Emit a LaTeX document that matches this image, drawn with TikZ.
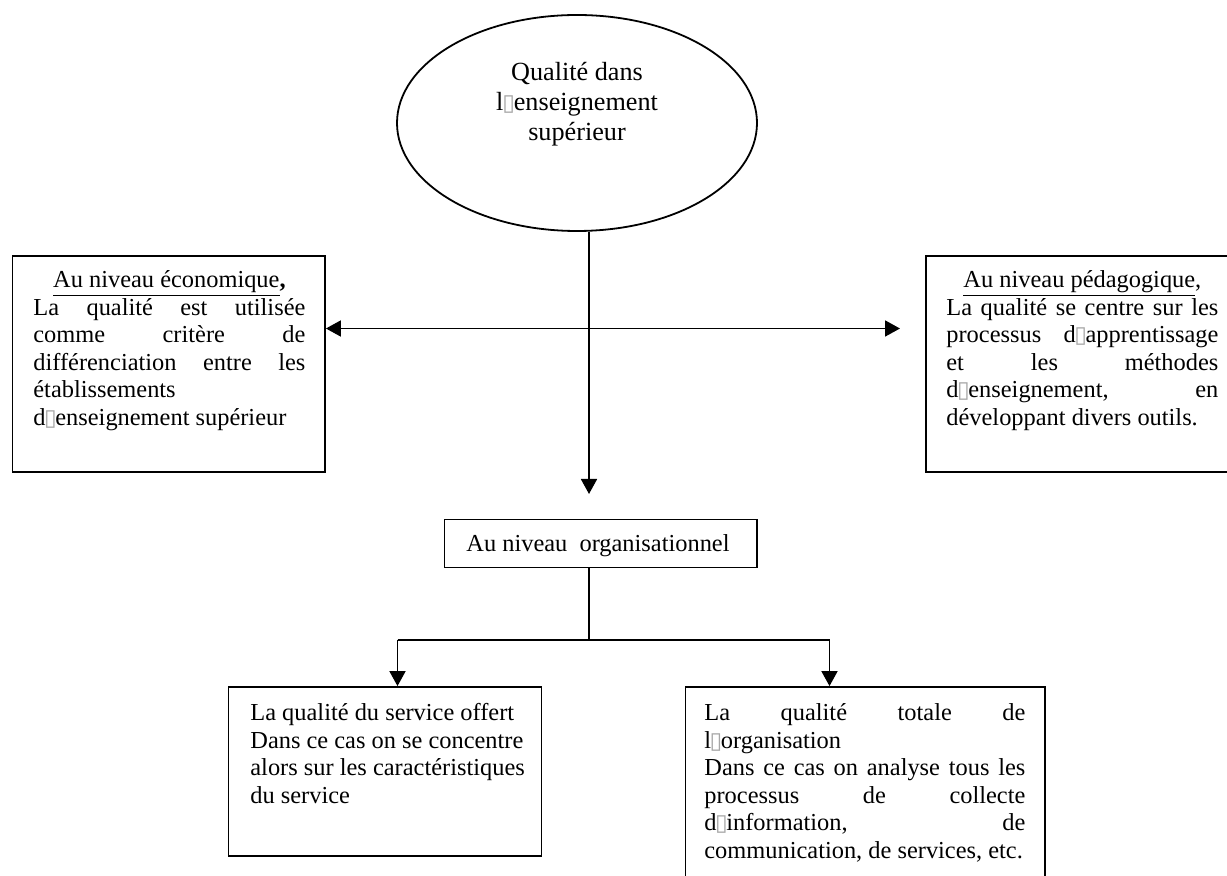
\documentclass[tikz,border=0pt]{standalone}
\usepackage{fontspec}
\setmainfont{Liberation Serif}
\newfontfamily\djv{DejaVu Sans}
\usetikzlibrary{arrows.meta,shapes.geometric}
\newcommand\misglyph{\makebox[0.4em]{\djv\fontsize{11.5}{11.5}\selectfont\color{gray!70}▯}}
\newcommand\natsp{\spaceskip=0pt\xspaceskip=0pt\rightskip=0pt plus 1fil\baselineskip=13.75pt\relax}
\newcommand\firstln{\rule{0pt}{9.625pt}}
\tikzset{
  box/.style={draw, line width=0.9pt, rectangle, inner sep=0pt},
  txt/.style={inner sep=0pt, anchor=north west, font=\fontsize{12.2}{13.75}\selectfont},
  arr/.style={-{Triangle[length=7.5pt,width=8pt]}, line width=0.9pt},
  darr/.style={{Triangle[length=7.5pt,width=8pt]}-{Triangle[length=7.5pt,width=8pt]}, line width=0.9pt},
  ln/.style={line width=0.9pt}
}
\begin{document}
\begin{tikzpicture}[x=0.5pt,y=-0.5pt]
\useasboundingbox (0,0) rectangle (1227,876);
\clip (0,0) rectangle (1227,876);
\fill[white] (0,0) rectangle (1227,876);
% shapes
\node[draw, ellipse, line width=0.9pt, inner sep=0pt, minimum width=180pt, minimum height=108pt] (e) at (577,123) {};
\node[anchor=north, text width=110pt, inner sep=0pt, font=\fontsize{13.1}{15}\selectfont] (et) at (577,59)
  {\spaceskip=0pt\xspaceskip=0pt\baselineskip=15pt\centering\rule{0pt}{10.5pt}Qualité dans\\ l\misglyph enseignement\\ supérieur\par};
\node[box, minimum width=156.25pt, minimum height=108pt] (lb) at (168.75,364) {};
\node[box, minimum width=156.25pt, minimum height=108pt] (rb) at (1082.25,364) {};
\node[box, minimum width=156.25pt, minimum height=24pt] (org) at (600.75,543.6) {};
\node[box, minimum width=156.5pt, minimum height=84.5pt] (bl) at (385,771.5) {};
\node[box, minimum width=179.75pt, minimum height=106.5pt] (br) at (865.25,793.5) {};
% texts
\node[txt, text width=136pt] (lbt) at (33,268) {\natsp\noindent\firstln\makebox[136pt][c]{\underline{Au niveau économique}\textbf{,}}\\
  \makebox[136pt][s]{La qualité est utilisée}\\
  \makebox[136pt][s]{comme critère de}\\
  \makebox[136pt][s]{différenciation entre les}\\
  établissements\\
  d\misglyph enseignement supérieur\par};
\node[txt, text width=136pt] (rbt) at (946,268) {\natsp\noindent\firstln\makebox[136pt][c]{\underline{Au niveau pédagogique},}\\
  \makebox[136pt][s]{La qualité se centre sur les}\\
  \makebox[136pt][s]{processus d\misglyph apprentissage}\\
  \makebox[136pt][s]{et les méthodes}\\
  \makebox[136pt][s]{d\misglyph enseignement, en}\\
  développant divers outils.\par};
\node[inner sep=0pt, anchor=base west, font=\fontsize{12.2}{13.75}\selectfont] (orgt) at (466,552) {Au niveau\ \ organisationnel};
\node[txt, text width=145pt] (blt) at (250,701) {\natsp\noindent\firstln La qualité du service offert\\
  Dans ce cas on se concentre\\
  alors sur les caractéristiques\\
  du service\par};
\node[txt, text width=160.5pt] (brt) at (704,701) {\natsp\noindent\firstln\makebox[160.5pt][s]{La qualité totale de}\\
  l\misglyph organisation\\
  \makebox[160.5pt][s]{Dans ce cas on analyse tous les}\\
  \makebox[160.5pt][s]{processus de collecte}\\
  \makebox[160.5pt][s]{d\misglyph information, de}\\
  communication, de services, etc.\par};
% connectors
\coordinate (axis) at (589,0);
\coordinate (tip) at (589,494);
\coordinate (hy) at (0,328.5);
\coordinate (rtip) at (900,328.5);
\coordinate (fork) at (589,640);
\coordinate (fl) at (397.5,640);
\coordinate (fr) at (829.5,640);
\draw[arr] (e.south -| axis) -- (tip);
\draw[darr] (lb.east |- hy) -- (rtip);
\draw[ln] (org.south -| axis) -- (fork);
\draw[ln] (fl) -- (fr);
\draw[arr] (fl) -- (bl.north -| fl);
\draw[arr] (fr) -- (br.north -| fr);
\end{tikzpicture}
\end{document}
